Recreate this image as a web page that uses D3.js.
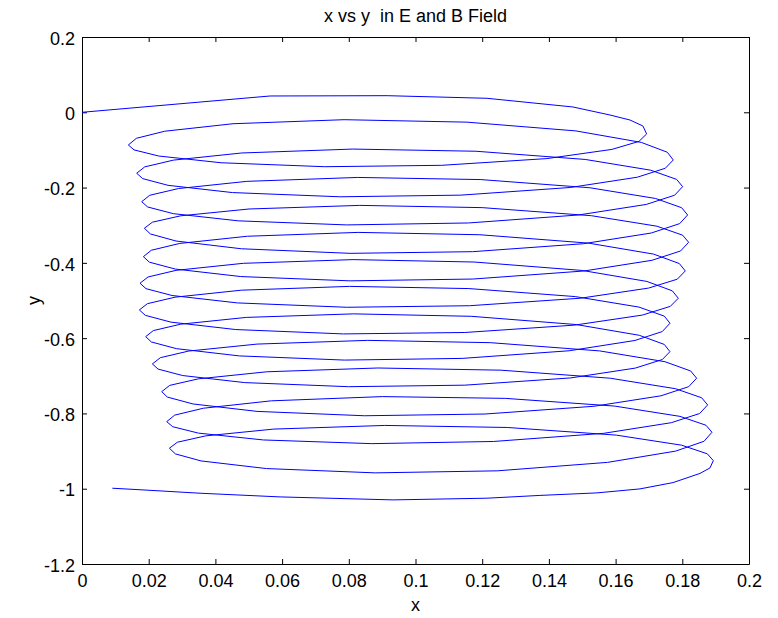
<!DOCTYPE html>
<html>
<head>
<meta charset="utf-8">
<script src="https://cdn.jsdelivr.net/npm/d3@7"></script>
<style>
    body { margin: 0; background: #fff; }
    text { font-family: "Liberation Sans", Arial, sans-serif; fill: #000; }
</style>
</head>
<body>
<script>
const chartTitle = 'x vs y  in E and B Field',
    xLabel = 'x',
    yLabel = 'y';

const xTicks = [0, 0.02, 0.04, 0.06, 0.08, 0.1, 0.12, 0.14, 0.16, 0.18, 0.2],
    xTickLabels = ['0', '0.02', '0.04', '0.06', '0.08', '0.1', '0.12', '0.14', '0.16', '0.18', '0.2'];
const yTicks = [-1.2, -1, -0.8, -0.6, -0.4, -0.2, 0, 0.2],
    yTickLabels = ['-1.2', '-1', '-0.8', '-0.6', '-0.4', '-0.2', '0', '0.2'];

// trajectory
const pathX = [
    0, 0.0564, 0.0915, 0.1214, 0.1472, 0.1583, 0.1643, 0.1682, 0.1693,
    0.1670, 0.1589, 0.1394, 0.1078, 0.0728, 0.0417, 0.0230, 0.0156, 0.0139,
    0.0163, 0.0248, 0.0453, 0.0786, 0.1154, 0.1481, 0.1677, 0.1755, 0.1773,
    0.1749, 0.1665, 0.1464, 0.1136, 0.0774, 0.0451, 0.0258, 0.0182, 0.0164,
    0.0188, 0.0274, 0.0479, 0.0812, 0.1181, 0.1509, 0.1705, 0.1783, 0.1801,
    0.1777, 0.1692, 0.1489, 0.1159, 0.0794, 0.0469, 0.0274, 0.0197, 0.0179,
    0.0203, 0.0289, 0.0494, 0.0827, 0.1196, 0.1524, 0.1720, 0.1798, 0.1816,
    0.1792, 0.1707, 0.1503, 0.1171, 0.0804, 0.0478, 0.0282, 0.0205, 0.0187,
    0.0211, 0.0296, 0.0501, 0.0833, 0.1200, 0.1528, 0.1724, 0.1801, 0.1819,
    0.1795, 0.1709, 0.1505, 0.1172, 0.0804, 0.0476, 0.0280, 0.0202, 0.0184,
    0.0208, 0.0293, 0.0496, 0.0828, 0.1193, 0.1519, 0.1714, 0.1791, 0.1809,
    0.1785, 0.1699, 0.1495, 0.1162, 0.0794, 0.0466, 0.0270, 0.0192, 0.0174,
    0.0198, 0.0282, 0.0484, 0.0813, 0.1176, 0.1500, 0.1694, 0.1770, 0.1788,
    0.1764, 0.1680, 0.1477, 0.1148, 0.0784, 0.0461, 0.0267, 0.0190, 0.0172,
    0.0196, 0.0279, 0.0478, 0.0802, 0.1160, 0.1479, 0.1670, 0.1746, 0.1763,
    0.1740, 0.1658, 0.1461, 0.1140, 0.0787, 0.0472, 0.0283, 0.0208, 0.0191,
    0.0214, 0.0296, 0.0493, 0.0814, 0.1167, 0.1482, 0.1671, 0.1746, 0.1763,
    0.1740, 0.1659, 0.1465, 0.1148, 0.0799, 0.0488, 0.0302, 0.0228, 0.0211,
    0.0235, 0.0320, 0.0525, 0.0857, 0.1224, 0.1552, 0.1748, 0.1825, 0.1843,
    0.1819, 0.1736, 0.1535, 0.1208, 0.0847, 0.0525, 0.0333, 0.0256, 0.0239,
    0.0263, 0.0349, 0.0554, 0.0887, 0.1256, 0.1584, 0.1780, 0.1858, 0.1876,
    0.1852, 0.1767, 0.1564, 0.1234, 0.0869, 0.0544, 0.0349, 0.0272, 0.0254,
    0.0278, 0.0364, 0.0568, 0.0901, 0.1269, 0.1597, 0.1793, 0.1871, 0.1889,
    0.1865, 0.1780, 0.1576, 0.1245, 0.0879, 0.0553, 0.0357, 0.0280, 0.0262,
    0.0286, 0.0371, 0.0575, 0.0908, 0.1275, 0.1602, 0.1798, 0.1875, 0.1893,
    0.1883, 0.1853, 0.1772, 0.1673, 0.1544, 0.1373, 0.1214, 0.0933, 0.0594, 0.0354, 0.0183, 0.0091
];
const pathY = [
    0, 0.0433, 0.0441, 0.0372, 0.0141, -0.0072, -0.0205, -0.0364, -0.0576,
    -0.0774, -0.0986, -0.1230, -0.1409, -0.1446, -0.1341, -0.1162, -0.0999, -0.0869,
    -0.0691, -0.0503, -0.0304, -0.0197, -0.0262, -0.0495, -0.0800, -0.1061, -0.1267,
    -0.1487, -0.1725, -0.1998, -0.2201, -0.2245, -0.2133, -0.1940, -0.1762, -0.1620,
    -0.1451, -0.1271, -0.1081, -0.0977, -0.1035, -0.1253, -0.1538, -0.1783, -0.1976,
    -0.2203, -0.2448, -0.2728, -0.2940, -0.2992, -0.2884, -0.2693, -0.2516, -0.2375,
    -0.2205, -0.2026, -0.1835, -0.1731, -0.1788, -0.2006, -0.2290, -0.2535, -0.2728,
    -0.2958, -0.3207, -0.3492, -0.3703, -0.3747, -0.3626, -0.3420, -0.3232, -0.3081,
    -0.2920, -0.2750, -0.2569, -0.2473, -0.2533, -0.2748, -0.3026, -0.3265, -0.3453,
    -0.3684, -0.3932, -0.4216, -0.4430, -0.4478, -0.4364, -0.4165, -0.3982, -0.3835,
    -0.3665, -0.3484, -0.3293, -0.3191, -0.3253, -0.3476, -0.3768, -0.4018, -0.4215,
    -0.4434, -0.4670, -0.4939, -0.5139, -0.5180, -0.5064, -0.4867, -0.4686, -0.4542,
    -0.4375, -0.4199, -0.4012, -0.3914, -0.3978, -0.4202, -0.4494, -0.4743, -0.4940,
    -0.5156, -0.5388, -0.5654, -0.5850, -0.5888, -0.5772, -0.5575, -0.5395, -0.5251,
    -0.5085, -0.4912, -0.4726, -0.4625, -0.4683, -0.4896, -0.5175, -0.5415, -0.5604,
    -0.5825, -0.6062, -0.6335, -0.6538, -0.6583, -0.6472, -0.6279, -0.6102, -0.5960,
    -0.5799, -0.5629, -0.5449, -0.5355, -0.5420, -0.5639, -0.5924, -0.6167, -0.6359,
    -0.6569, -0.6796, -0.7057, -0.7249, -0.7290, -0.7181, -0.6994, -0.6822, -0.6685,
    -0.6519, -0.6343, -0.6158, -0.6059, -0.6120, -0.6339, -0.6626, -0.6872, -0.7065,
    -0.7290, -0.7532, -0.7810, -0.8016, -0.8062, -0.7946, -0.7749, -0.7566, -0.7421,
    -0.7255, -0.7081, -0.6894, -0.6793, -0.6851, -0.7065, -0.7344, -0.7584, -0.7774,
    -0.8002, -0.8246, -0.8529, -0.8745, -0.8803, -0.8705, -0.8523, -0.8353, -0.8218,
    -0.8045, -0.7862, -0.7665, -0.7553, -0.7600, -0.7805, -0.8078, -0.8314, -0.8500,
    -0.8741, -0.9001, -0.9300, -0.9525, -0.9579, -0.9465, -0.9262, -0.9075, -0.8924,
    -0.8765, -0.8596, -0.8416, -0.8319, -0.8373, -0.8576, -0.8844, -0.9073, -0.9254,
    -0.9448, -0.9594, -0.9838, -1.0005, -1.0111, -1.0178, -1.0252, -1.0297, -1.0218, -1.0120, -1.0032, -0.9987
];

let width = 778,
    height = 618;
const plotLeft = 82, plotRight = 749, plotTop = 37, plotBottom = 564;
const fontSize = 18;

function createGraph() {
    const points = pathX.map((x, i) => [x, pathY[i]]);

    const xScale = d3.scaleLinear()
        .domain([0, 0.2])
        .range([plotLeft, plotRight]);

    const yScale = d3.scaleLinear()
        .domain([-1.2, 0.2])
        .range([plotBottom, plotTop]);

    const svg = d3.select('body')
        .append('svg')
        .attr('width', width)
        .attr('height', height);

    svg.append('rect')
        .attr('width', width)
        .attr('height', height)
        .attr('fill', '#fff');

    // axes, ticks pointing inwards like matlab
    const xAxis = d3.axisBottom(xScale)
        .tickValues(xTicks)
        .tickSizeInner(-5)
        .tickSizeOuter(0)
        .tickFormat((d, i) => xTickLabels[i]);

    const xAxisTop = d3.axisTop(xScale)
        .tickValues(xTicks)
        .tickSizeInner(-5)
        .tickSizeOuter(0)
        .tickFormat('');

    const yAxis = d3.axisLeft(yScale)
        .tickValues(yTicks)
        .tickSizeInner(-5)
        .tickSizeOuter(0)
        .tickFormat((d, i) => yTickLabels[i]);

    const yAxisRight = d3.axisRight(yScale)
        .tickValues(yTicks)
        .tickSizeInner(-5)
        .tickSizeOuter(0)
        .tickFormat('');

    const gx = svg.append('g')
        .attr('id', 'x-axis')
        .attr('transform', 'translate(0,' + plotBottom + ')')
        .call(xAxis);
    gx.selectAll('text')
        .attr('y', 23)
        .attr('dy', 0)
        .style('font-size', fontSize + 'px');

    svg.append('g')
        .attr('transform', 'translate(0,' + plotTop + ')')
        .call(xAxisTop);

    const gy = svg.append('g')
        .attr('id', 'y-axis')
        .attr('transform', 'translate(' + plotLeft + ',0)')
        .call(yAxis);
    gy.selectAll('text')
        .attr('x', -7)
        .attr('dy', '0.4em')
        .style('font-size', fontSize + 'px');

    svg.append('g')
        .attr('transform', 'translate(' + plotRight + ',0)')
        .call(yAxisRight);

    svg.selectAll('.domain, .tick line')
        .attr('stroke', '#000')
        .attr('stroke-width', 1);

    // trajectory
    const line = d3.line()
        .x(d => xScale(d[0]))
        .y(d => yScale(d[1]));

    svg.append('path')
        .datum(points)
        .attr('d', line)
        .attr('fill', 'none')
        .attr('stroke', '#0000ff')
        .attr('stroke-width', 1);

    // labels
    svg.append('text')
        .attr('x', (plotLeft + plotRight) / 2)
        .attr('y', 22)
        .attr('text-anchor', 'middle')
        .style('font-size', fontSize + 'px')
        .style('white-space', 'pre')
        .text(chartTitle);

    svg.append('text')
        .attr('x', (plotLeft + plotRight) / 2)
        .attr('y', 611)
        .attr('text-anchor', 'middle')
        .style('font-size', fontSize + 'px')
        .text(xLabel);

    svg.append('text')
        .attr('transform', 'translate(40,' + (plotTop + plotBottom) / 2 + ') rotate(-90)')
        .attr('text-anchor', 'middle')
        .style('font-size', fontSize + 'px')
        .text(yLabel);
}

document.addEventListener('DOMContentLoaded', function (e) {
    createGraph();
});
</script>
</body>
</html>
